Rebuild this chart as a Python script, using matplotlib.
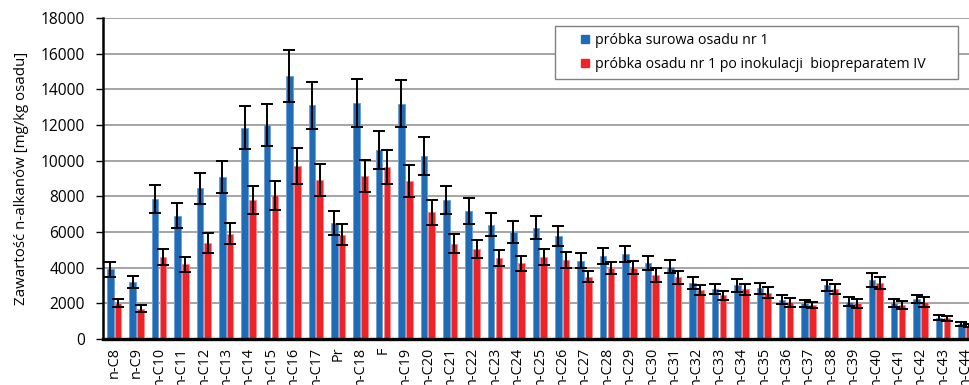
import matplotlib
matplotlib.use("Agg")
import matplotlib.pyplot as plt
from matplotlib.lines import Line2D
import numpy as np

categories = ["n-C8", "n-C9", "n-C10", "n-C11", "n-C12", "n-C13", "n-C14", "n-C15",
              "n-C16", "n-C17", "Pr", "n-C18", "F", "n-C19", "n-C20", "n-C21", "n-C22",
              "n-C23", "n-C24", "n-C25", "n-C26", "n-C27", "n-C28", "n-C29", "n-C30",
              "n-C31", "n-C32", "n-C33", "n-C34", "n-C35", "n-C36", "n-C37", "n-C38",
              "n-C39", "n-C40", "n-C41", "n-C42", "n-C43", "n-C44"]

raw_values = [3900, 3200, 7850, 6900, 8450, 9100, 11850, 12000, 14750, 13100,
              6500, 13250, 10600, 13200, 10250, 7800, 7200, 6400, 6000, 6250,
              5800, 4400, 4650, 4750, 4250, 4050, 3150, 2800, 3000, 2850,
              2200, 2000, 3000, 2100, 3300, 2000, 2250, 1200, 850]
raw_errors = [400, 320, 800, 700, 860, 900, 1200, 1200, 1470, 1320,
              670, 1350, 1070, 1310, 1050, 780, 730, 650, 600, 630,
              560, 400, 450, 450, 400, 370, 320, 280, 340, 310,
              240, 180, 330, 250, 380, 220, 220, 150, 100]

inoc_values = [2000, 1700, 4600, 4200, 5400, 5900, 7800, 8050, 9700, 8900,
               5850, 9150, 9650, 8850, 7100, 5350, 5050, 4550, 4250, 4600,
               4450, 3500, 4000, 4000, 3600, 3450, 2750, 2450, 2800, 2600,
               2050, 1900, 2800, 2000, 3150, 1900, 2050, 1150, 750]
inoc_errors = [220, 190, 470, 420, 560, 600, 800, 800, 1000, 900,
               600, 900, 970, 900, 700, 550, 500, 450, 420, 470,
               450, 330, 330, 380, 400, 340, 300, 240, 310, 290,
               240, 180, 300, 240, 340, 220, 280, 150, 100]

series_labels = ["próbka surowa osadu nr 1",
                 "próbka osadu nr 1 po inokulacji  biopreparatem IV"]
yticks = [0, 2000, 4000, 6000, 8000, 10000, 12000, 14000, 16000, 18000]

plt.rcParams["font.family"] = ["Open Sans", "DejaVu Sans"]

fig = plt.figure(figsize=(9.69, 3.85), dpi=100)
ax = fig.add_axes([0.1063, 0.1195, 0.9015, 0.8338])

x = np.arange(len(categories))
bw = 0.29
off = 0.175
blue = "#1f6bb5"
red = "#ee2328"

ax.bar(x - off, raw_values, bw, color=blue, edgecolor="#6ea0d6", linewidth=0.7, zorder=3)
ax.bar(x + off, inoc_values, bw, color=red, edgecolor="#f58a8c", linewidth=0.7, zorder=3)
err_kw = dict(fmt="none", ecolor="black", elinewidth=1.4, capsize=4.5, capthick=1.4, zorder=4)
ax.errorbar(x - off, raw_values, yerr=raw_errors, **err_kw)
ax.errorbar(x + off, inoc_values, yerr=inoc_errors, **err_kw)

ax.set_xlim(-0.5, len(categories) - 0.5)
ax.set_ylim(0, 18000)
ax.set_yticks(yticks)
ax.set_yticklabels([str(v) for v in yticks], fontsize=11.2)
ax.set_xticks(x)
ax.set_xticklabels(categories, rotation=90, fontsize=10.4, va="top")
ax.tick_params(axis="x", length=0, pad=5.5)
ax.tick_params(axis="y", length=5, width=1, pad=8, direction="out")

ax.yaxis.grid(True, color="#8c8c8c", linewidth=1.1, zorder=0)
ax.set_axisbelow(True)
for s in ("top", "right"):
    ax.spines[s].set_visible(False)
ax.spines["left"].set_linewidth(1.8)
ax.spines["bottom"].set_linewidth(2.4)
ax.spines["left"].set_zorder(5)
ax.spines["bottom"].set_zorder(5)

ax.set_ylabel("Zawartość n-alkanów [mg/kg osadu]", fontsize=10.8, labelpad=8)

handles = [Line2D([], [], linestyle="none", marker="s", markersize=5.2,
                  markerfacecolor=c, markeredgecolor=c) for c in (blue, red)]
leg = ax.legend(handles, series_labels, loc="upper left",
                bbox_to_anchor=(0.5174, 0.807, 0.4613, 0.168), mode="expand",
                fontsize=10.2, frameon=True, fancybox=False,
                handlelength=3.2, handletextpad=-0.85, borderpad=0.5,
                labelspacing=0.65, borderaxespad=0)
leg.get_frame().set_edgecolor("#808080")
leg.get_frame().set_linewidth(1.0)
leg.get_frame().set_facecolor("white")
leg.get_frame().set_alpha(1)

fig.savefig("out.png", dpi=100)
